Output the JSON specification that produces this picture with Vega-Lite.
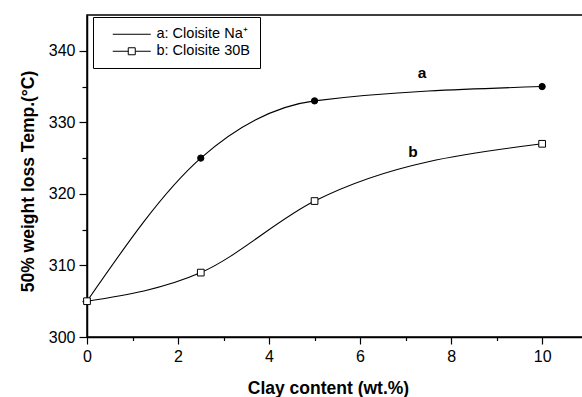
{
  "$schema": "https://vega.github.io/schema/vega-lite/v6.json",
  "width": 497,
  "height": 322,
  "autosize": {"type": "none"},
  "padding": {"left": 87, "top": 15, "right": 0, "bottom": 60},
  "background": "white",
  "config": {
    "font": "Liberation Sans",
    "view": {"stroke": "black", "strokeWidth": 1.5},
    "axis": {
      "domainColor": "black", "domainWidth": 1.5,
      "tickColor": "black", "tickWidth": 1.2,
      "labelColor": "black", "labelFont": "Liberation Sans", "labelFontSize": 16,
      "titleFont": "Liberation Sans", "titleFontWeight": "bold", "titleFontSize": 17.5, "titleColor": "black",
      "grid": false
    }
  },
  "resolve": {"axis": {"x": "independent", "y": "independent"}},
  "datasets": {
    "pts": [
      {"clay": 0, "temp": 305, "series": "a: Cloisite Na⁺"},
      {"clay": 2.5, "temp": 325, "series": "a: Cloisite Na⁺"},
      {"clay": 5, "temp": 333, "series": "a: Cloisite Na⁺"},
      {"clay": 10, "temp": 335, "series": "a: Cloisite Na⁺"},
      {"clay": 0, "temp": 305, "series": "b: Cloisite 30B"},
      {"clay": 2.5, "temp": 309, "series": "b: Cloisite 30B"},
      {"clay": 5, "temp": 319, "series": "b: Cloisite 30B"},
      {"clay": 10, "temp": 327, "series": "b: Cloisite 30B"}
    ],
    "notes": [
      {"clay": 7.36, "temp": 336.9, "text": "a"},
      {"clay": 7.16, "temp": 325.8, "text": "b"}
    ]
  },
  "layer": [
    {
      "data": {"name": "pts"},
      "mark": {"type": "line", "interpolate": "monotone", "color": "black", "strokeWidth": 1.1},
      "encoding": {
        "x": {
          "field": "clay", "type": "quantitative",
          "scale": {"domain": [0, 10.92], "nice": false, "zero": false},
          "axis": {
            "orient": "bottom",
            "values": [0, 2, 4, 6, 8, 10],
            "tickSize": 7,
            "labelPadding": 4,
            "labelFlush": false,
            "labelOverlap": false,
            "title": "Clay content (wt.%)",
            "titleX": 241, "titleY": 56, "titleBaseline": "alphabetic", "titleAlign": "center"
          }
        },
        "y": {
          "field": "temp", "type": "quantitative",
          "scale": {"domain": [300, 345], "nice": false, "zero": false},
          "axis": {
            "orient": "left",
            "values": [300, 310, 320, 330, 340],
            "tickSize": 8,
            "labelPadding": 4,
            "labelOverlap": false,
            "labelFlush": false,
            "title": "50% weight loss Temp.(°C)",
            "titleX": -54, "titleY": 166, "titleBaseline": "alphabetic", "titleAlign": "center", "titleAngle": -90
          }
        },
        "detail": {"field": "series", "type": "nominal"}
      }
    },
    {
      "data": {"name": "pts"},
      "transform": [{"filter": "datum.series === 'a: Cloisite Na⁺'"}],
      "mark": {"type": "point", "shape": "circle", "filled": true, "fill": "black", "stroke": "black", "strokeWidth": 1, "size": 40, "opacity": 1},
      "encoding": {
        "x": {"field": "clay", "type": "quantitative", "axis": null},
        "y": {"field": "temp", "type": "quantitative", "axis": null}
      }
    },
    {
      "data": {"name": "pts"},
      "transform": [{"filter": "datum.series === 'b: Cloisite 30B'"}],
      "mark": {"type": "point", "shape": "square", "filled": true, "fill": "white", "stroke": "black", "strokeWidth": 1, "size": 45, "opacity": 1},
      "encoding": {
        "x": {"field": "clay", "type": "quantitative", "axis": null},
        "y": {"field": "temp", "type": "quantitative", "axis": null}
      }
    },
    {
      "data": {"name": "pts"},
      "transform": [{"filter": "false"}],
      "mark": {"type": "point", "filled": false, "stroke": "black", "strokeWidth": 1, "size": 100, "opacity": 1},
      "encoding": {
        "x": {
          "field": "clay", "type": "quantitative",
          "axis": {"orient": "bottom", "values": [1, 3, 5, 7, 9], "labels": false, "domain": false, "tickSize": 3.5, "title": null}
        },
        "y": {
          "field": "temp", "type": "quantitative",
          "axis": {"orient": "left", "values": [305, 315, 325, 335], "labels": false, "domain": false, "tickSize": 5, "title": null}
        },
        "shape": {
          "field": "series", "type": "nominal",
          "scale": {"domain": ["a: Cloisite Na⁺", "b: Cloisite 30B"], "range": ["M0.5,0H8.1", "M0.5,0H3.6M5,0H8.1M3.6,-0.7H5V0.7H3.6Z"]},
          "legend": {
            "title": null,
            "orient": "none", "legendX": 6, "legendY": 2,
            "direction": "vertical",
            "strokeColor": "black", "fillColor": "white",
            "padding": 10, "rowPadding": 2,
            "labelFont": "Liberation Sans", "labelFontSize": 14.5, "labelColor": "black",
            "labelOffset": 39,
            "symbolSize": 100,
            "symbolOpacity": 1,
            "symbolStrokeColor": "black",
            "symbolStrokeWidth": 1
          }
        }
      }
    },
    {
      "data": {"name": "notes"},
      "mark": {"type": "text", "fontWeight": "bold", "fontSize": 15.5, "color": "black", "font": "Liberation Sans"},
      "encoding": {
        "x": {"field": "clay", "type": "quantitative", "axis": null},
        "y": {"field": "temp", "type": "quantitative", "axis": null},
        "text": {"field": "text", "type": "nominal"}
      }
    }
  ]
}
